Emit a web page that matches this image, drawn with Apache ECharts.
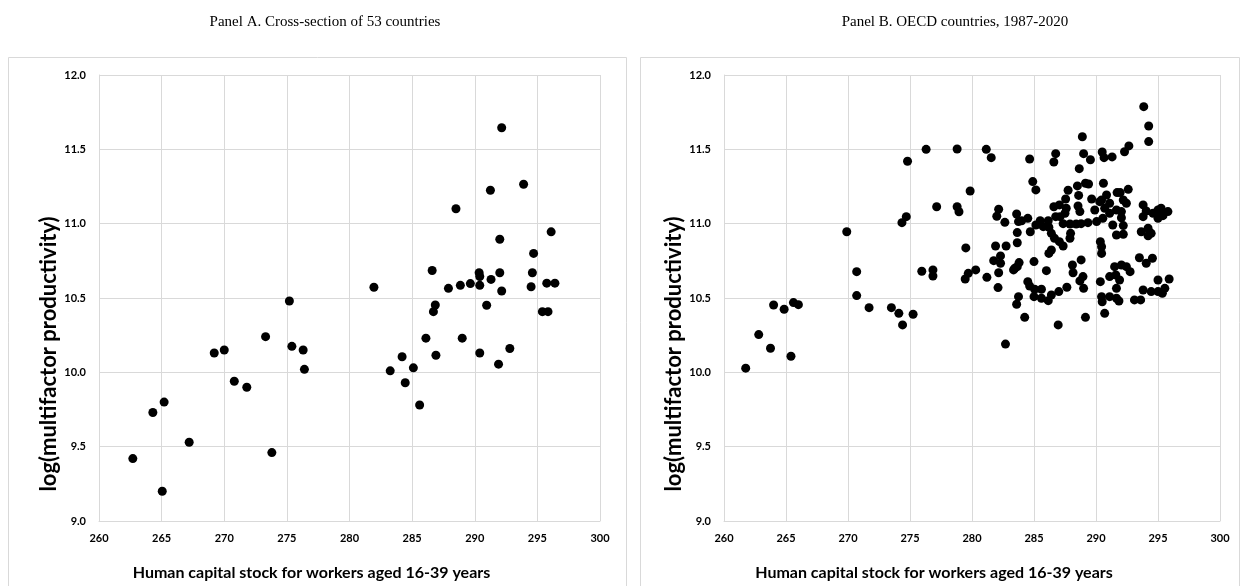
<!DOCTYPE html>
<html>
<head>
<meta charset="utf-8">
<script src="https://cdn.jsdelivr.net/npm/echarts@6/dist/echarts.min.js"></script>
<style>
html,body{margin:0;padding:0;background:#fff;}
#chart{width:1245px;height:586px;}
</style>
</head>
<body>
<div id="chart"></div>
<script>
// Panel A: cross-section of 53 countries [human capital, log MFP]
const panelAData = [
[262.7,9.42],[264.3,9.73],[265.2,9.80],[265.05,9.20],[267.2,9.53],[269.2,10.13],[270.0,10.15],[270.8,9.94],[271.8,9.90],[273.3,10.24],[273.8,9.46],[275.2,10.48],[275.4,10.175],[276.3,10.15],[276.4,10.02],
[283.25,10.01],[284.2,10.105],[284.45,9.93],[285.1,10.03],[285.6,9.78],[286.1,10.23],[286.9,10.115],[289.0,10.23],[290.4,10.13],[291.9,10.055],[292.8,10.16],
[292.15,11.645],[291.25,11.225],[293.9,11.265],[288.5,11.10],[296.1,10.945],[292.0,10.895],[294.7,10.80],[286.6,10.685],[290.35,10.67],[290.4,10.645],[292.0,10.67],[294.6,10.67],[291.3,10.625],[281.95,10.572],[287.9,10.565],[288.85,10.585],[289.65,10.597],[290.4,10.585],[292.15,10.547],[294.5,10.576],[295.75,10.60],[296.4,10.60],[286.85,10.453],[286.7,10.408],[290.95,10.451],[295.4,10.408],[295.85,10.408]
];
// Panel B: OECD countries, 1987-2020
const panelBData = [
[274.8,11.42],[276.3,11.50],[274.7,11.047],[261.75,10.028],[262.8,10.254],[263.75,10.162],[264.0,10.453],[264.85,10.424],[265.4,10.108],[265.6,10.469],[266.0,10.455],[269.9,10.946],[270.7,10.677],[270.7,10.516],[271.7,10.435],[273.5,10.435],[274.1,10.397],[274.4,10.319],[275.25,10.391],[274.35,11.007],[275.95,10.68],
[278.8,11.502],[281.15,11.50],[281.55,11.444],[279.85,11.22],[277.15,11.114],[278.8,11.114],[282.15,11.097],
[278.95,11.08],[282.0,11.05],[282.65,11.009],[283.6,11.065],[283.75,11.014],[283.65,10.94],[283.65,10.872],[279.5,10.837],[281.9,10.85],[282.75,10.85],[282.3,10.783],[281.75,10.751],[282.3,10.734],[280.3,10.689],[279.7,10.666],[279.45,10.628],[281.2,10.639],[282.15,10.67],[283.35,10.689],[283.65,10.711],[276.85,10.689],[276.85,10.648],[282.1,10.57],[283.75,10.509],[283.6,10.458],[282.7,10.19],
[288.9,11.585],[284.65,11.435],[286.75,11.471],[286.6,11.415],[289.0,11.471],[289.55,11.43],[290.5,11.482],[290.65,11.444],[291.3,11.449],[288.65,11.37],[284.9,11.283],[285.15,11.227],[287.75,11.225],[288.5,11.254],[289.15,11.272],[289.4,11.267],[290.6,11.272],[288.6,11.19],[287.55,11.166],[289.65,11.166],[290.45,11.159],[290.85,11.193],[291.1,11.137],[291.7,11.209],[286.6,11.114],[287.05,11.126],[288.55,11.119],
[288.7,11.081],[287.5,11.07],[287.6,11.104],[290.3,11.148],[290.7,11.104],[291.1,11.07],[291.65,11.092],[289.9,11.092],[284.0,11.02],[284.5,11.036],[284.7,10.946],[285.15,10.991],[285.5,11.02],[285.75,10.98],[286.15,11.02],[286.2,10.976],[286.75,11.047],[287.1,11.047],[287.35,11.0],[287.9,10.998],[288.4,10.998],[288.8,11.0],[289.35,11.007],[290.05,11.014],[290.55,11.036],[291.35,10.991],[291.65,10.924],[286.4,10.935],[286.65,10.902],[287.05,10.879],[286.4,10.823],[286.2,10.80],[287.35,10.85],[287.95,10.935],[287.9,10.902],[290.35,10.879],[290.45,10.845],[290.45,10.80],[283.8,10.738],[283.45,10.70],[285.0,10.745],[286.0,10.684],[288.1,10.722],[288.15,10.67],[288.8,10.756],[288.95,10.644],[288.7,10.615],[289.0,10.565],[290.35,10.61],[291.1,10.644],[291.5,10.711],[291.6,10.655],[284.5,10.61],[284.65,10.581],[285.05,10.559],[285.6,10.559],[285.0,10.509],[285.6,10.498],[286.15,10.482],[286.4,10.52],[287.0,10.543],[287.65,10.572],[284.25,10.37],[286.95,10.319],[289.15,10.37],[290.45,10.509],[290.5,10.475],[291.1,10.509],[290.7,10.397],[291.65,10.498],
[293.85,11.787],[294.25,11.657],[294.25,11.552],[292.65,11.523],[292.3,11.484],[292.6,11.231],[291.95,11.209],
[292.2,11.159],[292.45,11.137],[292.05,11.081],[292.05,11.04],[293.8,11.126],[294.05,11.085],[293.8,11.047],[294.6,11.07],[295.0,11.092],[295.25,11.104],[295.8,11.081],[295.0,11.036],[295.4,11.054],[292.2,10.987],[292.2,10.929],[293.65,10.946],[294.2,10.969],[294.45,10.935],[294.2,10.919],[293.5,10.771],[294.05,10.734],[294.55,10.767],[292.05,10.722],[292.45,10.711],[292.75,10.677],[291.9,10.621],[291.65,10.565],[291.85,10.48],[293.1,10.487],[293.6,10.487],[295.0,10.621],[295.9,10.628],[293.8,10.554],[294.45,10.543],[295.0,10.543],[295.35,10.532],[295.55,10.565]
];
const panelTitles = ['Panel A. Cross-section of 53 countries', 'Panel B. OECD countries, 1987-2020'];
const xAxisName = 'Human capital stock for workers aged 16-39 years';
const yAxisName = 'log(multifactor productivity)';
const xRange = [260, 300, 5];
const yRange = [9.0, 12.0, 0.5];

const axisFont = 'Lato, "DejaVu Sans", sans-serif';
const gridColor = '#d9d9d9';

function mkX(i){
  return {
    type:'value', gridIndex:i, min:xRange[0], max:xRange[1], interval:xRange[2],
    name:xAxisName, nameLocation:'middle', nameGap:44,
    nameTextStyle:{fontFamily:axisFont, fontWeight:'bold', fontSize:16, color:'#000', padding:[0,76,0,0]},
    axisLine:{show:true, lineStyle:{color:gridColor}},
    axisTick:{show:false},
    axisLabel:{fontFamily:axisFont, fontWeight:'bold', fontSize:11, color:'#000', margin:12},
    splitLine:{show:true, lineStyle:{color:gridColor, width:1}}
  };
}
function mkY(i){
  return {
    type:'value', gridIndex:i, min:yRange[0], max:yRange[1], interval:yRange[2],
    name:yAxisName, nameLocation:'middle', nameGap:38,
    nameTextStyle:{fontFamily:axisFont, fontWeight:'bold', fontSize:22, color:'#000', padding:[0,112,0,0]},
    axisLine:{show:true, lineStyle:{color:gridColor}},
    axisTick:{show:false},
    axisLabel:{fontFamily:axisFont, fontWeight:'bold', fontSize:11, color:'#000', margin:13,
      formatter:v=>v.toFixed(1)},
    splitLine:{show:true, lineStyle:{color:gridColor, width:1}}
  };
}

const chart = echarts.init(document.getElementById('chart'));
chart.setOption({
  backgroundColor:'#fff',
  animation:false,
  title:[
    {text:panelTitles[0], left:320, top:10, textAlign:'center',
     textStyle:{fontFamily:'"Liberation Serif", "Times New Roman", serif', fontWeight:'normal', fontSize:15, color:'#000'}},
    {text:panelTitles[1], left:950, top:10, textAlign:'center',
     textStyle:{fontFamily:'"Liberation Serif", "Times New Roman", serif', fontWeight:'normal', fontSize:15, color:'#000'}}
  ],
  graphic:[
    {type:'rect', shape:{x:8.5, y:57.5, width:618, height:540}, style:{fill:'none', stroke:gridColor, lineWidth:1}, silent:true, z:-1},
    {type:'rect', shape:{x:640.5, y:57.5, width:599, height:540}, style:{fill:'none', stroke:gridColor, lineWidth:1}, silent:true, z:-1}
  ],
  grid:[
    {left:99, top:75, width:501, height:446},
    {left:724, top:75, width:496, height:446}
  ],
  xAxis:[mkX(0), mkX(1)],
  yAxis:[mkY(0), mkY(1)],
  series:[
    {type:'scatter', xAxisIndex:0, yAxisIndex:0, data:panelAData, symbolSize:9, itemStyle:{color:'#000', opacity:1}},
    {type:'scatter', xAxisIndex:1, yAxisIndex:1, data:panelBData, symbolSize:9, itemStyle:{color:'#000', opacity:1}}
  ]
});
</script>
</body>
</html>
